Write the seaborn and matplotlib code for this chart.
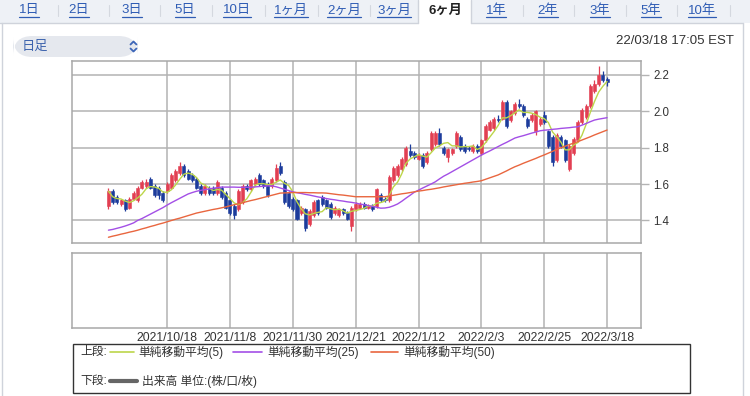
import numpy as np
import pandas as pd
import matplotlib
matplotlib.use("Agg")
from matplotlib import pyplot as plt
from matplotlib.patches import Rectangle, FancyBboxPatch
from matplotlib.lines import Line2D
import seaborn as sns

# ---- data ----
opens = [1.48, 1.56, 1.53, 1.49, 1.51, 1.47, 1.52, 1.51, 1.58, 1.59,
         1.63, 1.59, 1.58, 1.55, 1.56, 1.58, 1.62, 1.66, 1.70, 1.67,
         1.65, 1.63, 1.59, 1.55, 1.58, 1.58, 1.55, 1.58, 1.55, 1.51,
         1.48, 1.46, 1.50, 1.59, 1.57, 1.60, 1.65, 1.62, 1.60, 1.59,
         1.62, 1.70, 1.61, 1.55, 1.52, 1.51, 1.44, 1.46, 1.38, 1.43,
         1.51, 1.53, 1.51, 1.49, 1.44, 1.43, 1.46, 1.44, 1.37, 1.46,
         1.47, 1.49, 1.47, 1.48, 1.48, 1.54, 1.515, 1.51, 1.62, 1.65,
         1.68, 1.71, 1.78, 1.77, 1.74, 1.76, 1.72, 1.79, 1.82, 1.88,
         1.80, 1.75, 1.77, 1.81, 1.86, 1.81, 1.80, 1.78, 1.81, 1.77,
         1.84, 1.90, 1.91, 1.96, 1.96, 2.05, 1.95, 1.99, 2.04, 2.03,
         1.96, 1.95, 1.89, 1.93, 1.98, 1.89, 1.86, 1.73, 1.86, 1.84,
         1.68, 1.77, 1.84, 1.94, 1.97, 2.03, 2.11, 2.15, 2.20, 2.18]
closes = [1.56, 1.50, 1.50, 1.51, 1.46, 1.52, 1.55, 1.58, 1.61, 1.61,
          1.58, 1.54, 1.54, 1.51, 1.60, 1.65, 1.67, 1.70, 1.65, 1.63,
          1.62, 1.58, 1.55, 1.59, 1.55, 1.55, 1.61, 1.53, 1.47, 1.44,
          1.43, 1.56, 1.59, 1.57, 1.62, 1.63, 1.60, 1.59, 1.54, 1.63,
          1.69, 1.66, 1.50, 1.48, 1.46, 1.41, 1.47, 1.36, 1.45, 1.50,
          1.44, 1.49, 1.47, 1.42, 1.47, 1.46, 1.44, 1.41, 1.47, 1.49,
          1.49, 1.47, 1.48, 1.46, 1.57, 1.51, 1.51, 1.64, 1.69, 1.70,
          1.74, 1.80, 1.76, 1.75, 1.76, 1.70, 1.77, 1.88, 1.88, 1.82,
          1.77, 1.79, 1.79, 1.88, 1.79, 1.78, 1.79, 1.81, 1.78, 1.84,
          1.92, 1.94, 1.96, 1.95, 2.05, 1.92, 2.00, 2.04, 2.03, 1.98,
          1.92, 1.98, 2.00, 1.96, 1.94, 1.81, 1.72, 1.87, 1.81, 1.73,
          1.81, 1.85, 1.94, 2.01, 2.03, 2.14, 2.15, 2.20, 2.17, 2.16]
highs = [1.58, 1.57, 1.54, 1.52, 1.52, 1.53, 1.56, 1.59, 1.62, 1.63,
         1.64, 1.60, 1.59, 1.56, 1.61, 1.66, 1.68, 1.72, 1.71, 1.68,
         1.66, 1.64, 1.60, 1.60, 1.59, 1.59, 1.62, 1.59, 1.56, 1.52,
         1.49, 1.57, 1.60, 1.60, 1.63, 1.64, 1.66, 1.63, 1.61, 1.64,
         1.71, 1.72, 1.62, 1.56, 1.53, 1.52, 1.48, 1.47, 1.46, 1.51,
         1.52, 1.54, 1.52, 1.50, 1.48, 1.47, 1.47, 1.45, 1.48, 1.50,
         1.50, 1.50, 1.49, 1.49, 1.58, 1.55, 1.53, 1.65, 1.70, 1.71,
         1.75, 1.81, 1.82, 1.78, 1.77, 1.77, 1.78, 1.89, 1.89, 1.91,
         1.81, 1.80, 1.80, 1.89, 1.87, 1.82, 1.81, 1.82, 1.82, 1.85,
         1.93, 1.95, 1.97, 1.98, 2.06, 2.06, 2.01, 2.05, 2.07, 2.04,
         1.97, 1.99, 2.01, 1.97, 2.00, 1.90, 1.87, 1.88, 1.87, 1.85,
         1.82, 1.86, 1.95, 2.02, 2.04, 2.15, 2.17, 2.25, 2.22, 2.19]
lows = [1.46, 1.49, 1.49, 1.48, 1.45, 1.46, 1.51, 1.50, 1.57, 1.58,
        1.57, 1.53, 1.52, 1.50, 1.55, 1.57, 1.61, 1.65, 1.64, 1.62,
        1.61, 1.57, 1.54, 1.54, 1.54, 1.54, 1.54, 1.52, 1.46, 1.43,
        1.41, 1.45, 1.49, 1.56, 1.56, 1.59, 1.59, 1.58, 1.53, 1.58,
        1.61, 1.65, 1.49, 1.47, 1.45, 1.40, 1.43, 1.34, 1.37, 1.42,
        1.43, 1.48, 1.46, 1.41, 1.43, 1.42, 1.43, 1.40, 1.34, 1.45,
        1.46, 1.46, 1.46, 1.45, 1.47, 1.50, 1.50, 1.50, 1.61, 1.64,
        1.67, 1.70, 1.75, 1.74, 1.73, 1.69, 1.71, 1.78, 1.81, 1.81,
        1.76, 1.72, 1.76, 1.80, 1.78, 1.77, 1.78, 1.77, 1.77, 1.76,
        1.83, 1.89, 1.90, 1.94, 1.95, 1.91, 1.94, 1.98, 2.02, 1.97,
        1.91, 1.94, 1.87, 1.92, 1.93, 1.80, 1.70, 1.72, 1.80, 1.72,
        1.67, 1.76, 1.83, 1.93, 1.96, 2.02, 2.10, 2.14, 2.16, 2.14]
ma25 = [1.346, 1.350, 1.356, 1.362, 1.369, 1.377, 1.386, 1.400,
        1.410, 1.422, 1.434, 1.446, 1.458, 1.470, 1.484,
        1.497, 1.509, 1.521, 1.533, 1.545, 1.553, 1.560,
        1.565, 1.569, 1.573, 1.577, 1.580, 1.583,
        1.583, 1.583, 1.583, 1.582, 1.582, 1.582, 1.582,
        1.584, 1.586, 1.588, 1.590, 1.590,
        1.585, 1.578, 1.571, 1.564, 1.557,
        1.552, 1.548, 1.543, 1.539, 1.534, 1.529, 1.525, 1.520,
        1.516, 1.513, 1.509, 1.506, 1.502, 1.499, 1.495,
        1.490, 1.486, 1.481, 1.477, 1.472, 1.467,
        1.468, 1.472, 1.480, 1.490,
        1.505, 1.522, 1.538, 1.555,
        1.566, 1.578, 1.589, 1.600, 1.612,
        1.628, 1.643, 1.655,
        1.668, 1.681, 1.694, 1.707, 1.720, 1.733, 1.746, 1.759,
        1.771, 1.782, 1.794, 1.806, 1.818, 1.829, 1.841, 1.853,
        1.860, 1.866, 1.873, 1.880, 1.886, 1.893,
        1.896, 1.898, 1.901, 1.903, 1.906,
        1.908, 1.910, 1.913, 1.915,
        1.924, 1.933, 1.943, 1.952,
        1.957, 1.961, 1.965]
ma50 = [1.307, 1.313, 1.318, 1.324, 1.329, 1.335, 1.340, 1.346,
        1.353, 1.359, 1.366, 1.372, 1.379, 1.385, 1.392,
        1.399, 1.406, 1.412, 1.419, 1.426, 1.433, 1.440,
        1.445, 1.450, 1.455, 1.460, 1.464, 1.469, 1.474,
        1.480, 1.486, 1.491, 1.497, 1.503, 1.509, 1.514, 1.520,
        1.526, 1.532, 1.538, 1.544, 1.550,
        1.551, 1.552, 1.553, 1.553, 1.553, 1.553, 1.552, 1.552, 1.551, 1.551, 1.550,
        1.547, 1.544, 1.541, 1.539, 1.536, 1.533, 1.530,
        1.530, 1.530, 1.530, 1.530, 1.530, 1.530, 1.530,
        1.534, 1.538, 1.542, 1.546, 1.549, 1.553, 1.557,
        1.561, 1.564, 1.568, 1.571, 1.575,
        1.579, 1.584, 1.588,
        1.592, 1.596, 1.600,
        1.604, 1.607, 1.611, 1.614, 1.618,
        1.626, 1.634, 1.642, 1.650,
        1.661, 1.672, 1.684, 1.695,
        1.704, 1.714, 1.723, 1.732, 1.741, 1.751, 1.760,
        1.770, 1.780, 1.790, 1.800,
        1.808, 1.817, 1.825, 1.833,
        1.842, 1.851, 1.860, 1.870, 1.879, 1.888, 1.897]
date_ticks = [14, 29, 44, 59, 74, 89, 104, 119]
date_labels = ["2021/10/18", "2021/11/8", "2021/11/30", "2021/12/21",
               "2022/1/12", "2022/2/3", "2022/2/25", "2022/3/18"]
price_ticks = [1.4, 1.6, 1.8, 2.0, 2.2]
tabs = ["1日", "2日", "3日", "5日", "10日", "1ヶ月", "2ヶ月", "3ヶ月",
        "6ヶ月", "1年", "2年", "3年", "5年", "10年"]
selected_tab = "6ヶ月"
legend_upper = ["単純移動平均(5)", "単純移動平均(25)", "単純移動平均(50)"]
legend_lower = "出来高 単位:(株/口/枚)"
timestamp = "22/03/18 17:05 EST"
period_label = "日足"

df = pd.DataFrame({"open": opens, "high": highs, "low": lows, "close": closes,
                   "ma25": ma25, "ma50": ma50})
df["idx"] = np.arange(len(df))
df["ma5"] = df["close"].rolling(5, min_periods=1).mean()

# ---- style ----
sns.set_style("white")
plt.rcParams["font.family"] = ["Liberation Sans", "Noto Sans CJK JP", "DejaVu Sans"]

UP = "#e23f52"
DOWN = "#1d3c9c"
MA_COLORS = ["#bcd64a", "#a34fe6", "#e9663f"]
GRID = "#b3b3b3"
LINK = "#2f5cb4"

W, H = 750, 396
fig = plt.figure(figsize=(W / 100, H / 100), dpi=100)
fig.patch.set_facecolor("white")


def fx(px):
    return px / W


def fy(py):
    return 1 - py / H


# ---- tab bar ----
fig.patches.append(Rectangle((0, fy(23)), 1, 23 / H, transform=fig.transFigure,
                             facecolor="#eef1f6", edgecolor="none", zorder=0))
fig.patches.append(Rectangle((fx(418), fy(24)), fx(471) - fx(418), 24 / H,
                             transform=fig.transFigure, facecolor="white",
                             edgecolor="none", zorder=1))
for xs, ys in [([0, 418], [23, 23]), ([471, 743], [23, 23]),
               ([418, 418], [0, 23]), ([471, 471], [0, 23]),
               ([2, 2], [23, 396]), ([743, 743], [23, 396])]:
    fig.lines.append(Line2D([fx(v) for v in xs], [fy(v) for v in ys],
                            transform=fig.transFigure, color="#cfd3db", lw=1))

tab_cx = [29, 79, 132, 185, 237, 291, 344, 394, 445, 496, 548, 600, 651, 702]
for sx in [58, 109, 160, 212, 265, 318, 370, 523, 574, 626, 677, 730]:
    fig.lines.append(Line2D([fx(sx), fx(sx)], [fy(5), fy(16)],
                            transform=fig.transFigure, color="#d4d8df", lw=0.8))
tab_texts = []
for name, cx in zip(tabs, tab_cx):
    sel = name == selected_tab
    t = fig.text(fx(cx), fy(10.5), name, ha="center", va="center",
                 fontsize=9.5, color="#222222" if sel else LINK,
                 fontweight="bold" if sel else "normal")
    if not sel:
        tab_texts.append(t)

# ---- period selector pill and timestamp ----
fig.patches.append(FancyBboxPatch((fx(13), fy(57)), fx(138) - fx(13), 21 / H,
                                  boxstyle="round,pad=0,rounding_size=0.026",
                                  mutation_aspect=W / H,
                                  transform=fig.transFigure, facecolor="#e5e8ee",
                                  edgecolor="none"))
fig.text(fx(22), fy(46.5), period_label, ha="left", va="center",
         fontsize=9.5, color="#3e64ae")
for y0, y1 in [(44.5, 41.5), (48.5, 51.5)]:
    fig.lines.append(Line2D([fx(130.5), fx(133.5), fx(136.5)],
                            [fy(y0), fy(y1), fy(y0)],
                            transform=fig.transFigure, color="#3d66b8", lw=1.3))
fig.text(fx(734), fy(41), timestamp, ha="right", va="center",
         fontsize=9.5, color="#333333")

# ---- price panel ----
x_lo, x_hi = -8.7, 127.1
ax1 = fig.add_axes([fx(72), fy(242.7), fx(641) - fx(72), (242.7 - 61) / H])
ax1.set_xlim(x_lo, x_hi)
ax1.set_ylim(1.277, 2.277)

up = df["close"] >= df["open"]
colors = np.where(up, UP, DOWN)
ax1.vlines(df["idx"], df["low"], df["high"], colors=colors, lw=0.9, zorder=3)
body_lo = df[["open", "close"]].min(axis=1)
body_h = (df["close"] - df["open"]).abs()
ax1.bar(df["idx"], body_h, bottom=body_lo, width=0.72, color=colors,
        edgecolor=colors, linewidth=0.4, zorder=4)

for col, c in zip(["ma5", "ma25", "ma50"], MA_COLORS):
    sns.lineplot(data=df, x="idx", y=col, ax=ax1, color=c, lw=1.0, zorder=5)

ax1.set_xticks(date_ticks)
ax1.set_xticklabels([])
ax1.set_yticks(price_ticks)
ax1.set_yticklabels([f"{v:.1f}" for v in price_ticks])
ax1.yaxis.tick_right()
ax1.tick_params(axis="y", length=6, width=1, color=GRID, labelsize=8.3,
                labelcolor="#333333", pad=3)
ax1.tick_params(axis="x", length=0)
ax1.grid(True, color=GRID, lw=1.1)
ax1.set_axisbelow(True)
ax1.set_xlabel("")
ax1.set_ylabel("")
for s in ax1.spines.values():
    s.set_color("#a8a8a8")
    s.set_linewidth(1.1)

# ---- volume panel (empty) ----
ax2 = fig.add_axes([fx(72), fy(328), fx(641) - fx(72), (328 - 253) / H])
ax2.set_xlim(x_lo, x_hi)
ax2.set_ylim(0, 1)
ax2.set_xticks(date_ticks)
ax2.set_xticklabels(date_labels)
ax2.set_yticks([])
ax2.tick_params(axis="x", length=0, labelsize=8.8, labelcolor="#333333", pad=3)
ax2.grid(True, axis="x", color=GRID, lw=1.1)
for s in ax2.spines.values():
    s.set_color("#a8a8a8")
    s.set_linewidth(1.1)

# ---- legend box ----
fig.patches.append(Rectangle((fx(73), fy(393)), fx(690) - fx(73), (393 - 344) / H,
                             transform=fig.transFigure, facecolor="white",
                             edgecolor="#333333", lw=1))
row1, row2 = 352, 381
fig.text(fx(80), fy(row1), "上段:", ha="left", va="center", fontsize=8.5,
         color="#333333")
for (lx0, lx1, tx), lab, c in zip([(110, 134, 138), (233, 262, 267), (371, 398, 403)],
                                  legend_upper, MA_COLORS):
    fig.lines.append(Line2D([fx(lx0), fx(lx1)], [fy(row1), fy(row1)],
                            transform=fig.transFigure, color=c, lw=1.2))
    fig.text(fx(tx), fy(row1), lab, ha="left", va="center", fontsize=8.5,
             color="#333333")
fig.text(fx(80), fy(row2), "下段:", ha="left", va="center", fontsize=8.5,
         color="#333333")
fig.lines.append(Line2D([fx(110), fx(137)], [fy(row2), fy(row2)],
                        transform=fig.transFigure, color="#666666", lw=3))
fig.text(fx(142), fy(row2), legend_lower, ha="left", va="center", fontsize=8.5,
         color="#333333")

# underline the tab links
fig.canvas.draw()
renderer = fig.canvas.get_renderer()
for t in tab_texts:
    bb = t.get_window_extent(renderer)
    fig.lines.append(Line2D([bb.x0 / W, bb.x1 / W], [(bb.y0 - 0.5) / H] * 2,
                            transform=fig.transFigure, color=LINK, lw=0.9))

fig.savefig("out.png", dpi=100)
